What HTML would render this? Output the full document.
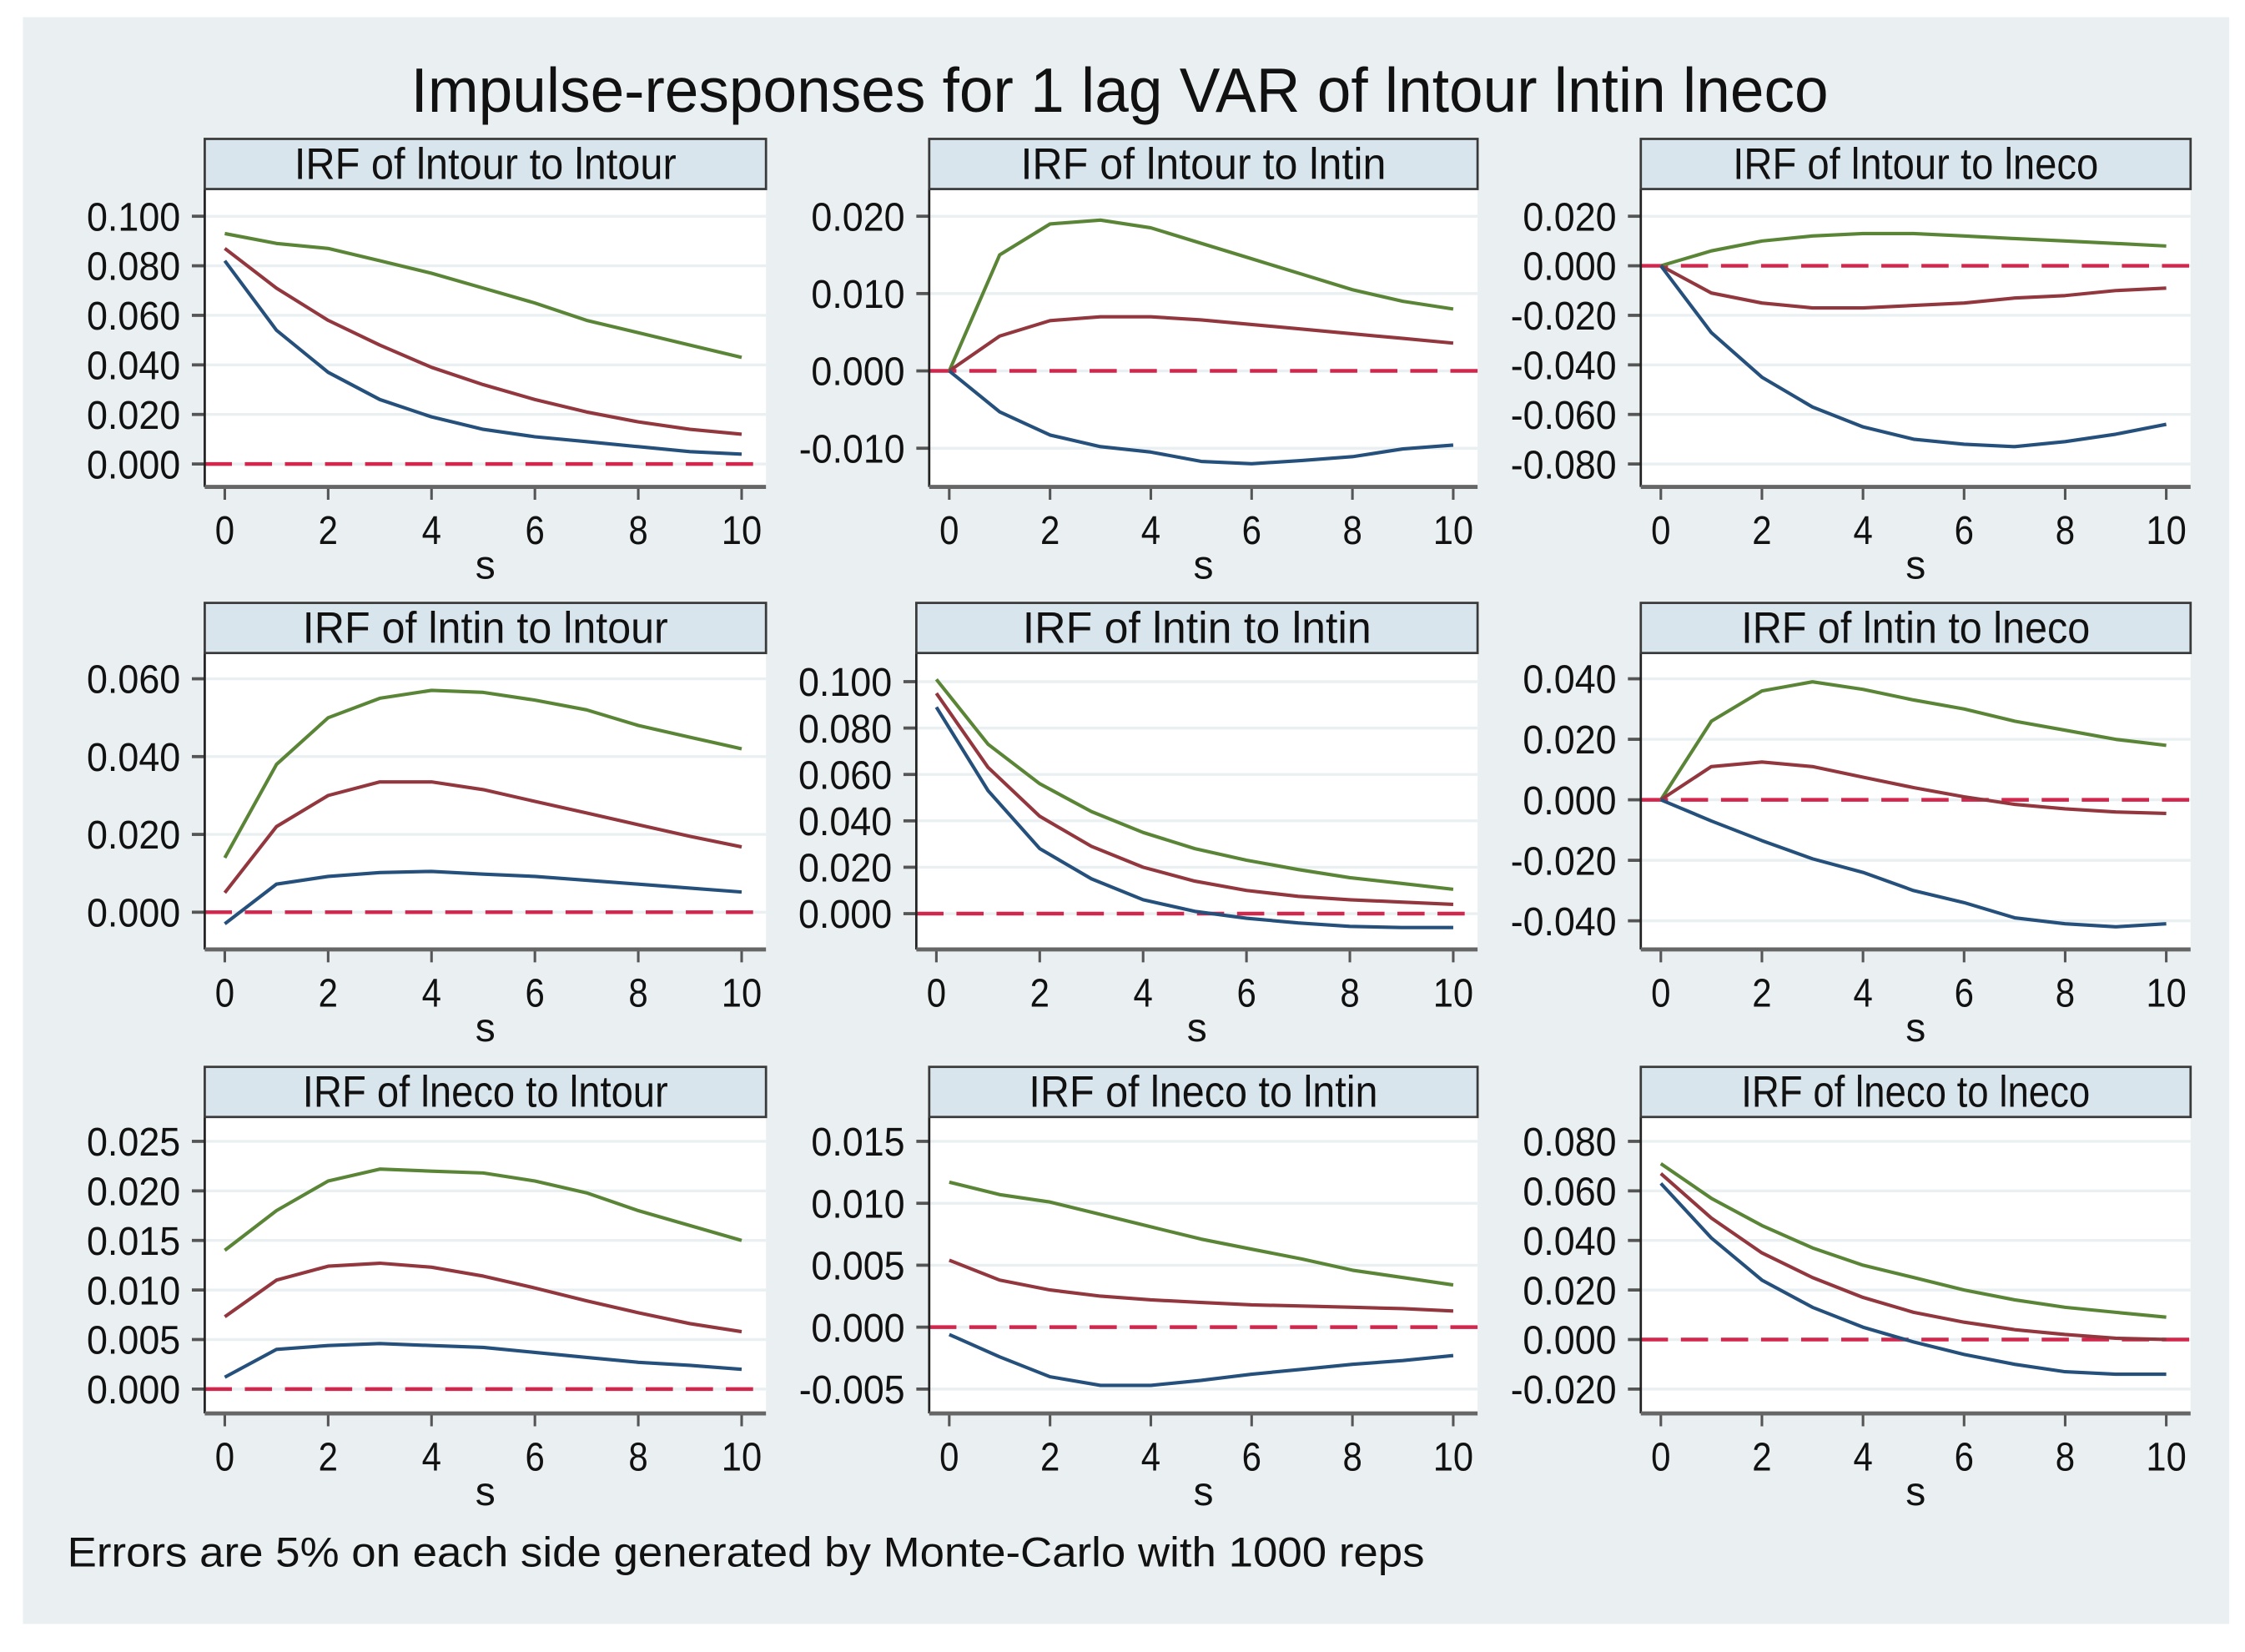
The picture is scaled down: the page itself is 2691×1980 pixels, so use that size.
<!DOCTYPE html>
<html><head><meta charset="utf-8"><style>
html,body{margin:0;padding:0;background:#fff;}
svg{display:block;font-family:"Liberation Sans",sans-serif;}
</style></head><body>
<svg id="chart" width="2691" height="1980" viewBox="0 0 1568 1153.6" preserveAspectRatio="none" xmlns="http://www.w3.org/2000/svg">
<rect x="0" y="0" width="1568" height="1154" fill="#ffffff"/>
<rect x="16" y="12" width="1541" height="1122" fill="#eaf0f2"/>
<text x="782" y="78" text-anchor="middle" font-size="44" textLength="990" lengthAdjust="spacingAndGlyphs" fill="#111">Impulse-responses for 1 lag VAR of lntour lntin lneco</text>
<text x="47" y="1094" font-size="29" textLength="948" lengthAdjust="spacingAndGlyphs" fill="#111">Errors are 5% on each side generated by Monte-Carlo with 1000 reps</text>
<g id="panels"></g>
</svg>
<script>
const steps = [0,1,2,3,4,5,6,7,8,9,10];
const xTicks = [0,2,4,6,8,10];
const panelTitles = ["IRF of lntour to lntour","IRF of lntour to lntin","IRF of lntour to lneco",
 "IRF of lntin to lntour","IRF of lntin to lntin","IRF of lntin to lneco",
 "IRF of lneco to lntour","IRF of lneco to lntin","IRF of lneco to lneco"];
const yTickLabels = [
 ["0.000","0.020","0.040","0.060","0.080","0.100"],
 ["-0.010","0.000","0.010","0.020"],
 ["-0.080","-0.060","-0.040","-0.020","0.000","0.020"],
 ["0.000","0.020","0.040","0.060"],
 ["0.000","0.020","0.040","0.060","0.080","0.100"],
 ["-0.040","-0.020","0.000","0.020","0.040"],
 ["0.000","0.005","0.010","0.015","0.020","0.025"],
 ["-0.005","0.000","0.005","0.010","0.015"],
 ["-0.020","0.000","0.020","0.040","0.060","0.080"]
];
const upperBand = [
 [.093,.089,.087,.082,.077,.071,.065,.058,.053,.048,.043],
 [0,.015,.019,.0195,.0185,.0165,.0145,.0125,.0105,.009,.008],
 [0,.006,.010,.012,.013,.013,.012,.011,.010,.009,.008],
 [.014,.038,.050,.055,.057,.0565,.0545,.052,.048,.045,.042],
 [.101,.073,.056,.044,.035,.028,.023,.019,.0155,.013,.0105],
 [0,.026,.036,.039,.0365,.033,.030,.026,.023,.020,.018],
 [.014,.018,.021,.0222,.022,.0218,.021,.0198,.018,.0165,.015],
 [.0117,.0107,.0101,.0091,.0081,.0071,.0063,.0055,.0046,.0040,.0034],
 [.071,.057,.046,.037,.030,.025,.020,.016,.013,.011,.009]
];
const irfValues = [
 [.087,.071,.058,.048,.039,.032,.026,.021,.017,.014,.012],
 [0,.0045,.0065,.007,.007,.0066,.006,.0054,.0048,.0042,.0036],
 [0,-.011,-.015,-.017,-.017,-.016,-.015,-.013,-.012,-.010,-.009],
 [.005,.022,.030,.0335,.0335,.0315,.0285,.0255,.0225,.0195,.0168],
 [.095,.063,.042,.029,.020,.014,.010,.0075,.006,.005,.004],
 [0,.011,.0125,.011,.0075,.004,.001,-.0015,-.003,-.004,-.0045],
 [.0073,.011,.0124,.0127,.0123,.0114,.0102,.0089,.0077,.0066,.0058],
 [.0054,.0038,.0030,.0025,.0022,.0020,.0018,.0017,.0016,.0015,.0013],
 [.067,.049,.035,.025,.017,.011,.007,.004,.002,.0005,0]
];
const lowerBand = [
 [.082,.054,.037,.026,.019,.014,.011,.009,.007,.005,.004],
 [0,-.0053,-.0083,-.0098,-.0105,-.0117,-.0120,-.0116,-.0111,-.0101,-.0096],
 [0,-.027,-.045,-.057,-.065,-.070,-.072,-.073,-.071,-.068,-.064],
 [-.003,.0072,.0092,.0102,.0105,.0098,.0092,.0082,.0072,.0062,.0052],
 [.089,.053,.028,.015,.006,.001,-.002,-.004,-.0055,-.006,-.006],
 [0,-.007,-.0135,-.0195,-.024,-.030,-.034,-.039,-.041,-.042,-.041],
 [.0012,.0040,.0044,.0046,.0044,.0042,.0037,.0032,.0027,.0024,.0020],
 [-.0006,-.0024,-.0040,-.0047,-.0047,-.0043,-.0038,-.0034,-.0030,-.0027,-.0023],
 [.063,.041,.024,.013,.005,-.001,-.006,-.010,-.013,-.014,-.014]
];

const NS = "http://www.w3.org/2000/svg";
const root = document.getElementById('panels');
function mk(tag, attrs, parent){ const e=document.createElementNS(NS,tag); for(const k in attrs) e.setAttribute(k,attrs[k]); (parent||root).appendChild(e); return e; }
function labW(s){ let w=0; for(const ch of s){ w += ch==='.'?7:(ch==='-'?8.5:14.6); } return w; }

const colRight=[535,1032,1530];
const rowHeaderTop=[97,421,745];
const rowBottom=[340,663,987];
const tickTopPx=[151,151,151,474,476,474,797,797,797];
const tickBotPx=[324,313,324,637,638,643,970,970,970];

for(let p=0;p<9;p++){
  const r=Math.floor(p/3), c=p%3;
  let left = c===0?143:(c===1?649:1146);
  if(p===4) left=640;
  const right=colRight[c], hTop=rowHeaderTop[r], hBot=hTop+35, bottom=rowBottom[r];
  const g=mk('g',{});
  
  
  const labs=yTickLabels[p];
  const vMin=parseFloat(labs[0]), vMax=parseFloat(labs[labs.length-1]);
  const y=v=>tickBotPx[p]+(v-vMin)/(vMax-vMin)*(tickTopPx[p]-tickBotPx[p]);
  const x0=left+14, x10=right-17;
  const x=s=>x0+(s-steps[0])/(steps[steps.length-1]-steps[0])*(x10-x0);

  const pa=mk('rect',{x:left,y:hBot,width:right-left,height:bottom-hBot,fill:'#fff'},g);
  
  
  labs.forEach(l=>{
    const v=parseFloat(l), yy=y(v);
    const gl=mk('line',{x1:left,x2:right,y1:yy,y2:yy,stroke:'#eaf0f2','stroke-width':2},g);
    
    
    const tk=mk('line',{x1:left-9,x2:left,y1:yy,y2:yy,stroke:'#555','stroke-width':2.2},g);
    
    
    const t=mk('text',{x:left-17,y:yy+10,'text-anchor':'end','font-size':28,fill:'#111',textLength:labW(l),lengthAdjust:'spacingAndGlyphs'},g);
    t.textContent=l;
    
    
  });
  xTicks.forEach(s=>{
    const xx=x(s);
    const tk=mk('line',{x1:xx,x2:xx,y1:bottom,y2:bottom+9,stroke:'#555','stroke-width':1.8},g);
    
    
    const t=mk('text',{x:xx,y:bottom+40,'text-anchor':'middle','font-size':28,fill:'#111',textLength:labW(String(s))-1,lengthAdjust:'spacingAndGlyphs'},g);
    t.textContent=String(s);
    
    
  });
  const xt=mk('text',{x:(left+right)/2,y:bottom+64,'text-anchor':'middle','font-size':28,fill:'#111'},g);
  xt.textContent='s';
  
  
  const z=mk('line',{x1:left,x2:right,y1:y(0),y2:y(0),stroke:'#d3264c','stroke-width':2.6,'stroke-dasharray':'19 9'},g);
  
  
  const series=[[upperBand[p],'#5a8537','upper-band-line'],[irfValues[p],'#93373f','irf-line'],[lowerBand[p],'#25507c','lower-band-line']];
  series.forEach(([arr,col,nm])=>{
    const d=arr.map((v,i)=>(i?'L':'M')+x(steps[i]).toFixed(1)+' '+y(v).toFixed(1)).join(' ');
    const pl=mk('path',{d:d,fill:'none',stroke:col,'stroke-width':2.4,'stroke-linejoin':'round'},g);
    
    
  });
  const la=mk('line',{x1:left,x2:left,y1:hBot,y2:bottom,stroke:'#222','stroke-width':1.6},g);
  
  
  const ba=mk('line',{x1:left,x2:right,y1:bottom,y2:bottom,stroke:'#666','stroke-width':2.8},g);
  
  
  const hb=mk('rect',{x:left,y:hTop,width:right-left,height:35,fill:'#d9e5ec',stroke:'#3a3a3a','stroke-width':1.6},g);
  
  
  const tw=panelTitles[p].length*11.6;
  const ht=mk('text',{x:(left+right)/2,y:hTop+28,'text-anchor':'middle','font-size':31,fill:'#111',textLength:tw,lengthAdjust:'spacingAndGlyphs'},g);
  ht.textContent=panelTitles[p];
  
  
}
</script>
</body></html>
